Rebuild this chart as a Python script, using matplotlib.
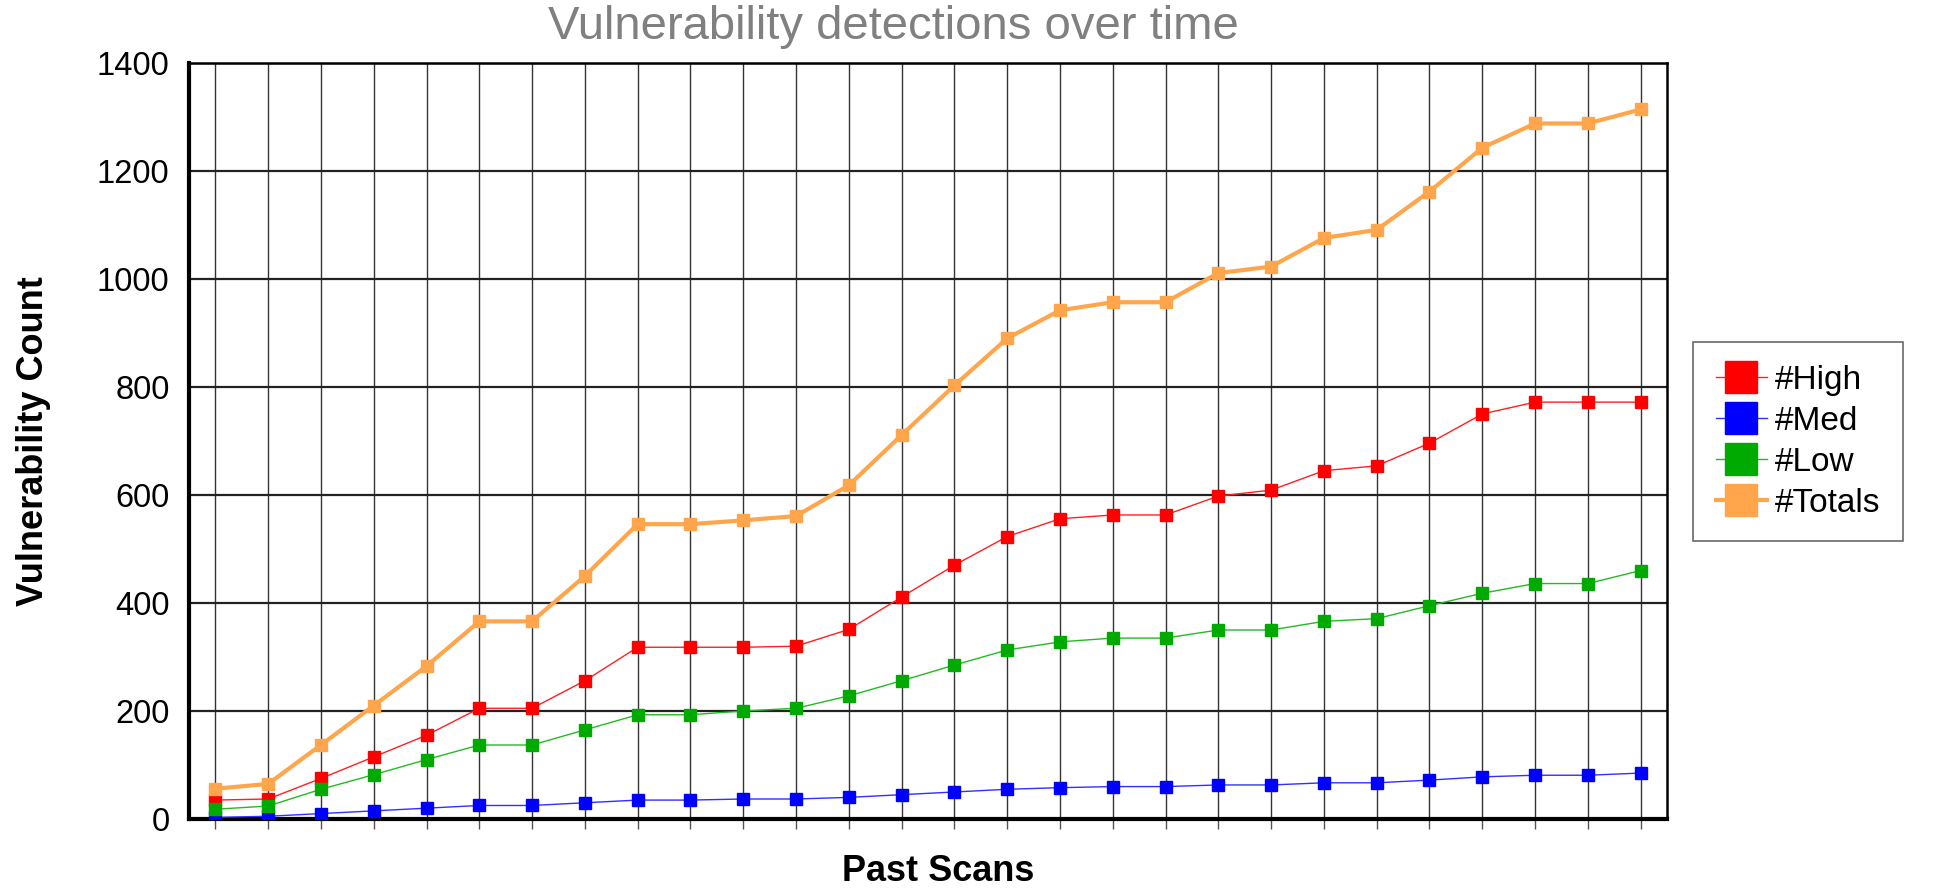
import matplotlib

matplotlib.use("Agg")
import matplotlib.pyplot as plt

plt.rcParams["font.family"] = ["Liberation Sans", "DejaVu Sans"]

scans = list(range(28))
high = [35, 37, 75, 115, 155, 205, 205, 256, 318, 318, 318, 320, 351, 411,
        470, 523, 556, 563, 563, 598, 609, 645, 654, 696, 750, 772, 772, 772]
med = [3, 5, 10, 15, 20, 25, 25, 30, 35, 35, 37, 37, 40, 45,
       50, 55, 58, 60, 60, 63, 63, 67, 67, 72, 78, 81, 81, 85]
low = [18, 24, 55, 82, 110, 137, 137, 165, 193, 193, 200, 205, 228, 256,
       285, 313, 328, 335, 335, 350, 350, 366, 371, 395, 418, 436, 436, 460]
totals = [56, 65, 137, 210, 283, 366, 366, 450, 546, 546, 553, 561, 618, 711,
          803, 890, 942, 957, 957, 1011, 1023, 1076, 1091, 1162, 1243, 1288, 1288, 1314]

series = [
    ("#High", high, "#ff0000", "#ff2020", 1.0),
    ("#Med", med, "#0000ff", "#3030ff", 1.0),
    ("#Low", low, "#00aa00", "#22bb22", 1.0),
    ("#Totals", totals, "#ffa64d", "#ffa64d", 3.0),
]

fig = plt.figure(figsize=(19.4, 8.9), dpi=100)
ax = fig.add_axes([0.0974, 0.0798, 0.7619, 0.8494])

for name, vals, mcol, lcol, lw in series:
    ax.plot(scans, vals, color=lcol, linewidth=lw, marker="s", markersize=8.8,
            markerfacecolor=mcol, markeredgecolor=mcol, label=name, zorder=3)

ax.set_xlim(-0.5, 27.5)
ax.set_ylim(0, 1400)
ax.set_yticks(range(0, 1401, 200))
ax.set_xticks(scans)
ax.set_xticklabels([])
ax.grid(True, axis="y", color="#222222", linewidth=1.6)
ax.grid(True, axis="x", color="#333333", linewidth=1.0)
ax.set_axisbelow(True)

for side in ("top", "right"):
    ax.spines[side].set_linewidth(1.8)
for side in ("left", "bottom"):
    ax.spines[side].set_linewidth(3)
ax.tick_params(axis="y", length=0, labelsize=23.5, pad=14)
ax.tick_params(axis="x", length=7, width=1, color="#555555", direction="out")

ax.set_ylabel("Vulnerability Count", fontsize=26, fontweight="bold")
ax.set_xlabel("Past Scans", fontsize=26, fontweight="bold")
ax.yaxis.set_label_coords(-0.1055, 0.5)
ax.xaxis.set_label_coords(0.507, -0.070)
ax.xaxis.label.set_va("center")
ax.yaxis.label.set_va("center")

fig.text(893 / 1940, 1 - 27 / 890, "Vulnerability detections over time",
         ha="center", va="center", fontsize=34, color="#808080")

leg = ax.legend(loc="upper left", bbox_to_anchor=(1693 / 1940, 1 - 342 / 890),
                bbox_transform=fig.transFigure, borderaxespad=0,
                fontsize=24, markerscale=2.6, handlelength=1.55,
                frameon=True, fancybox=False, edgecolor="#444444",
                borderpad=0.68, labelspacing=0.3, handletextpad=0.22)
leg.get_frame().set_linewidth(1.2)

fig.savefig("out.png", dpi=100)
